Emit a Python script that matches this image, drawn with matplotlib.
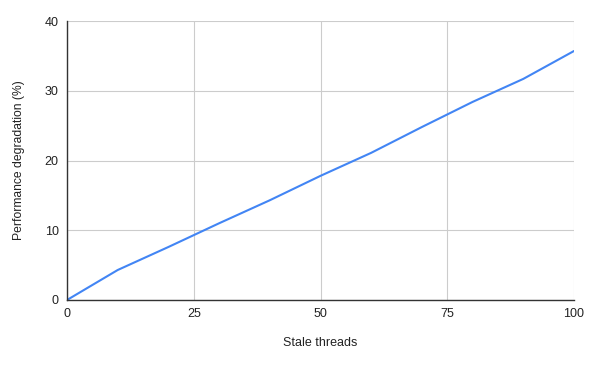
import matplotlib
import matplotlib.pyplot as plt

matplotlib.rc('font', family='Liberation Sans', size=9)

threads = [0, 10, 20, 30, 40, 50, 60, 70, 80, 90, 100]
degradation = [0, 4.3, 7.6, 11.0, 14.3, 17.8, 21.1, 24.8, 28.4, 31.7, 35.7]

fig = plt.figure(figsize=(5.89, 3.66), dpi=100)
ax = fig.add_axes([67/589, 1 - 300/366, 507/589, 279/366])

ax.plot(threads, degradation, color='#4285f4', lw=1.5, solid_capstyle='round')

ax.set_xlim(0, 100)
ax.set_ylim(0, 40)
ax.set_xticks([0, 25, 50, 75, 100])
ax.set_yticks([0, 10, 20, 30, 40])
ax.grid(True, color='#cccccc', lw=0.8)
ax.set_axisbelow(True)
for s in ['top', 'right']:
    ax.spines[s].set_visible(False)
for s in ['left', 'bottom']:
    ax.spines[s].set_color('#333333')
    ax.spines[s].set_linewidth(1)
ax.tick_params(length=0, colors='#222222', labelsize=9, pad=6)
ax.set_xlabel('Stale threads', color='#222222', labelpad=12)
ax.set_ylabel('Performance degradation (%)', color='#222222', labelpad=14,
              fontsize=8.7)

fig.savefig('out.png', dpi=100)
